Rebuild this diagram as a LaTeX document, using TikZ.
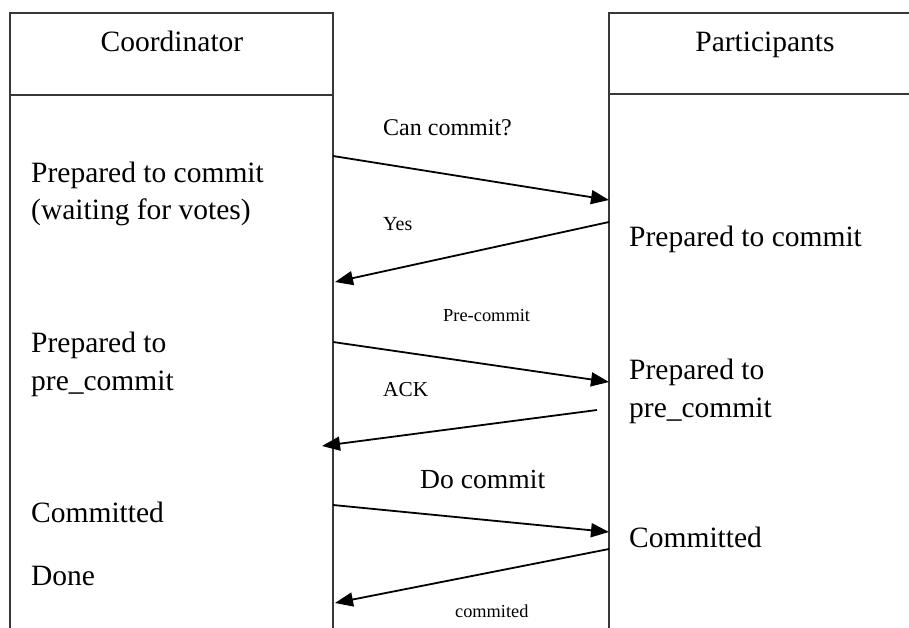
\documentclass[tikz,border=0pt]{standalone}
\usepackage{fontspec}
\setmainfont{Liberation Serif}
\usetikzlibrary{arrows.meta}
\begin{document}
\begin{tikzpicture}[x=1pt,y=-1pt,
  lane/.style={draw=black!78,line width=1.4pt},
  msg/.style={draw=black,line width=1.8pt,-{Triangle[length=18pt 0,width=14pt 0]}},
  state/.style={anchor=base west,inner sep=0pt,font=\fontsize{29.5}{37}\selectfont},
  head/.style={anchor=base,inner sep=0pt,font=\fontsize{29.5}{37}\selectfont},
  lbl/.style={anchor=base west,inner sep=0pt}]
\useasboundingbox (0,0) rectangle (909,628);
% lifeline boxes
\draw[lane] (10,628) -- (10,13) -- (333,13) -- (333,628);
\draw[lane] (10,95) -- (333,95);
\draw[lane] (909,13) -- (609,13) -- (609,628);
\draw[lane] (609,94) -- (909,94);
\node[head] (coord) at (172,52) {Coordinator};
\node[head] (part) at (765,52) {Participants};
% coordinator states
\node[state] (c-prep) at (31,183) {Prepared to commit};
\node[state] (c-wait) at (31,220) {(waiting for votes)};
\node[state] (c-pre1) at (31,352) {Prepared to};
\node[state] (c-pre2) at (31,390) {pre\_commit};
\node[state] (c-comm) at (31,522) {Committed};
\node[state] (c-done) at (31,585) {Done};
% participant states
\node[state] (p-prep) at (629,246) {Prepared to commit};
\node[state] (p-pre1) at (629,379) {Prepared to};
\node[state] (p-pre2) at (629,417) {pre\_commit};
\node[state] (p-comm) at (629,547) {Committed};
% message end points on the lifelines
\coordinate (m1s) at (333,156); \coordinate (m1e) at (609,200);
\coordinate (m2s) at (609,222); \coordinate (m2e) at (335,282);
\coordinate (m3s) at (333,342); \coordinate (m3e) at (609,382);
\coordinate (m4s) at (597,410); \coordinate (m4e) at (322,446);
\coordinate (m5s) at (333,505); \coordinate (m5e) at (609,532);
\coordinate (m6s) at (609,549); \coordinate (m6e) at (335,603);
\draw[msg] (m1s) -- (m1e);
\draw[msg] (m2s) -- (m2e);
\draw[msg] (m3s) -- (m3e);
\draw[msg] (m4s) -- (m4e);
\draw[msg] (m5s) -- (m5e);
\draw[msg] (m6s) -- (m6e);
% message labels
\node[lbl,font=\fontsize{24}{28}\selectfont] (l1) at (383,136) {Can commit?};
\node[lbl,font=\fontsize{20}{24}\selectfont] (l2) at (383,230) {Yes};
\node[lbl,font=\fontsize{18.4}{22}\selectfont] (l3) at (443,321) {Pre-commit};
\node[lbl,font=\fontsize{21.3}{25}\selectfont] (l4) at (383,396) {ACK};
\node[lbl,font=\fontsize{27.6}{32}\selectfont] (l5) at (420,488) {Do commit};
\node[lbl,font=\fontsize{18.3}{22}\selectfont] (l6) at (455,617) {commited};
\end{tikzpicture}
\end{document}
